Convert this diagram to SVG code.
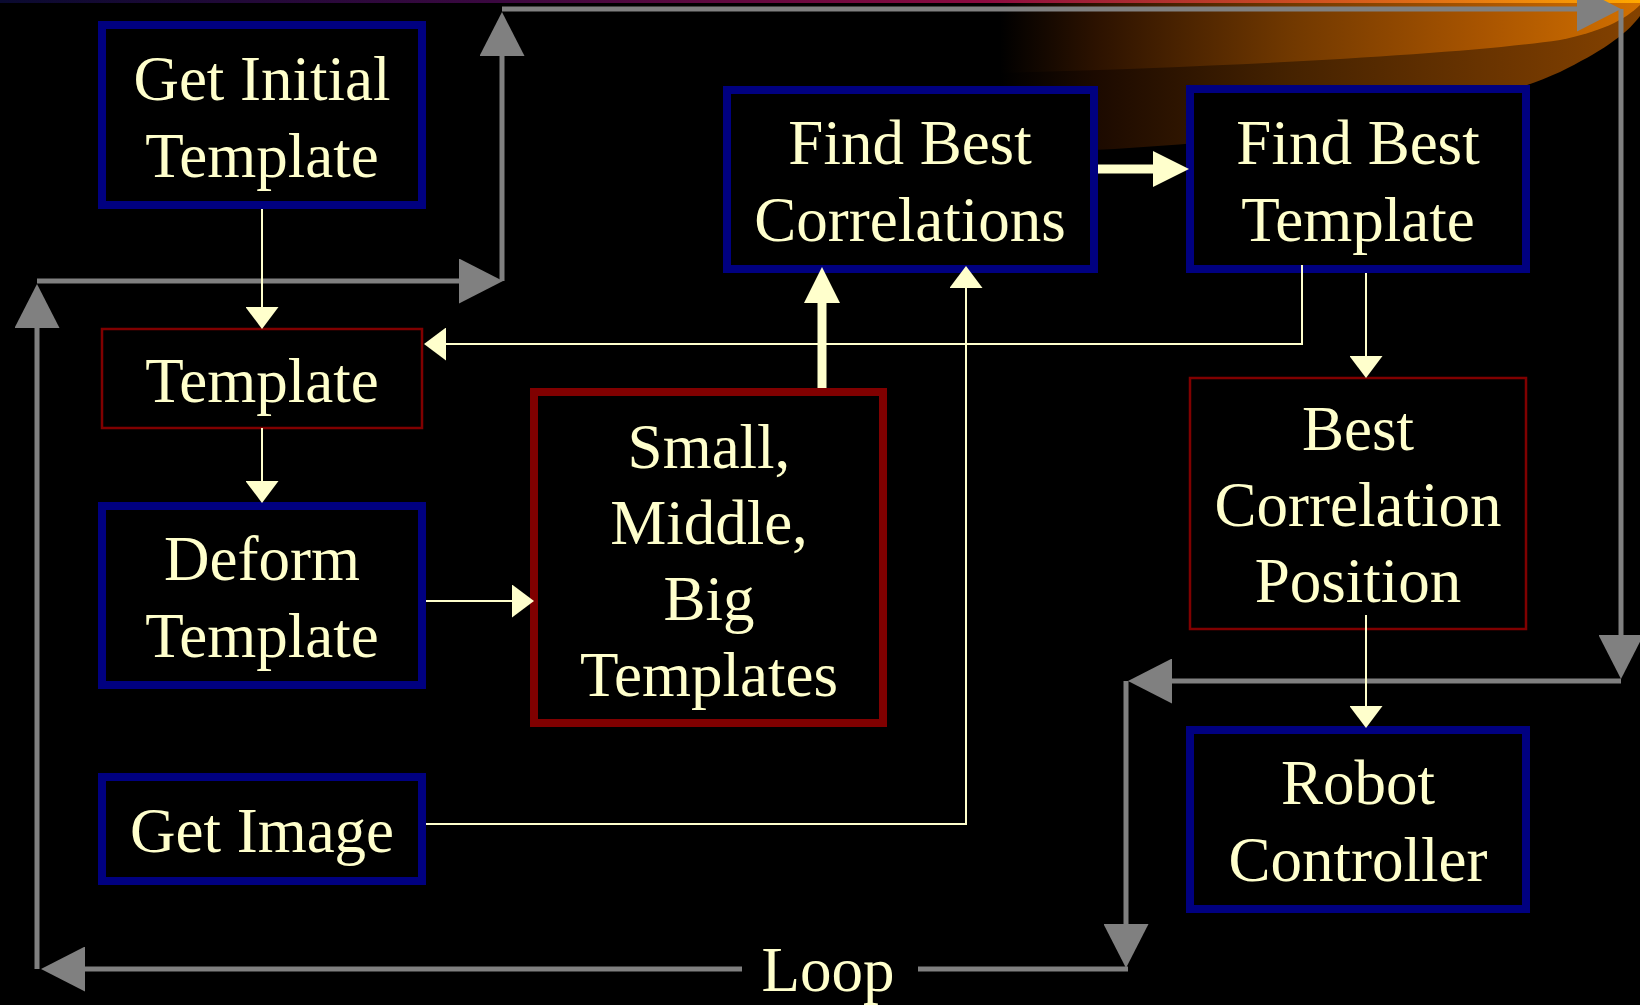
<svg xmlns="http://www.w3.org/2000/svg" width="1640" height="1005" viewBox="0 0 1640 1005">
  <style>
    .t { font-family: "Liberation Serif", "Times New Roman", serif; font-size: 63px; fill: #FFFFCC; text-anchor: middle; }
    .blue { fill: #000000; stroke: #000080; stroke-width: 8; }
    .red { fill: #000000; stroke: #800000; stroke-width: 8; }
    .redthin { fill: #000000; stroke: #800000; stroke-width: 2.5; }
    .thin { fill: none; stroke: #FFFFCC; stroke-width: 2; marker-end: url(#ah); }
    .thick { fill: none; stroke: #FFFFCC; stroke-width: 9; marker-end: url(#ahThick); }
    .loop { fill: none; stroke: #808080; stroke-width: 5; marker-end: url(#ahGray); }
    .loop-plain { fill: none; stroke: #808080; stroke-width: 5; }
  </style>
  <defs>
    <marker id="ah" markerUnits="userSpaceOnUse" viewBox="0 0 22 33" markerWidth="22" markerHeight="33" refX="1" refY="16.5" orient="auto">
      <path d="M0,0 L22,16.5 L0,33 Z" fill="#FFFFCC"/>
    </marker>
    <marker id="ahThick" markerUnits="userSpaceOnUse" viewBox="0 0 36 36" markerWidth="36" markerHeight="36" refX="1" refY="18" orient="auto">
      <path d="M0,0 L36,18 L0,36 Z" fill="#FFFFCC"/>
    </marker>
    <marker id="ahGray" markerUnits="userSpaceOnUse" viewBox="0 0 44 45" markerWidth="44" markerHeight="45" refX="1" refY="22.5" orient="auto">
      <path d="M0,0 L44,22.5 L0,45 Z" fill="#808080"/>
    </marker>
    <linearGradient id="swooshDark" gradientUnits="userSpaceOnUse" x1="1000" y1="0" x2="1640" y2="0">
      <stop offset="0" stop-color="#000000"/>
      <stop offset="0.15" stop-color="#1C0A00"/>
      <stop offset="0.45" stop-color="#452200"/>
      <stop offset="0.8" stop-color="#6E3600"/>
      <stop offset="1" stop-color="#844200"/>
    </linearGradient>
    <linearGradient id="swooshLight" gradientUnits="userSpaceOnUse" x1="1000" y1="0" x2="1640" y2="0">
      <stop offset="0" stop-color="#000000"/>
      <stop offset="0.15" stop-color="#2C1200"/>
      <stop offset="0.45" stop-color="#703800"/>
      <stop offset="0.75" stop-color="#A85400"/>
      <stop offset="1" stop-color="#D27000"/>
    </linearGradient>
    <linearGradient id="topStrip" x1="0" y1="0" x2="1" y2="0">
      <stop offset="0" stop-color="#0A0A30"/>
      <stop offset="0.3" stop-color="#3A0840"/>
      <stop offset="0.6" stop-color="#8C0A40"/>
      <stop offset="0.8" stop-color="#D05020"/>
      <stop offset="1" stop-color="#FFA800"/>
    </linearGradient>
  </defs>

  <!-- background -->
  <rect x="0" y="0" width="1640" height="1005" fill="#000000"/>

  <!-- decorative swoosh, top right -->
  <path d="M960,0 L960,154 C1200,152 1450,122 1560,72 C1600,52 1625,36 1640,16 L1640,0 Z" fill="url(#swooshDark)"/>
  <path d="M960,0 L960,74 C1200,68 1450,56 1560,40 C1600,32 1625,20 1640,5 L1640,0 Z" fill="url(#swooshLight)"/>
  <rect x="0" y="0" width="1640" height="3" fill="url(#topStrip)"/>

  <!-- loop connectors (grey) -->
  <g id="loop-connectors">
    <path class="loop" d="M742,969 H84"/>
    <path class="loop-plain" d="M1128,969 H918"/>
    <path class="loop" d="M37,969 V327"/>
    <path class="loop" d="M37,281 H460"/>
    <path class="loop" d="M502,281 V55"/>
    <path class="loop" d="M502,9 H1578"/>
    <path class="loop" d="M1621,9 V636"/>
    <path class="loop" d="M1621,681 H1171"/>
    <path class="loop" d="M1126,681 V925"/>
  </g>

  <!-- nodes -->
  <g id="get-initial-template">
    <rect class="blue" x="102" y="25" width="320" height="180"/>
    <text class="t" x="262" y="100">Get Initial</text>
    <text class="t" x="262" y="177">Template</text>
  </g>
  <g id="template">
    <rect class="redthin" x="102" y="329" width="320" height="99"/>
    <text class="t" x="262" y="402">Template</text>
  </g>
  <g id="deform-template">
    <rect class="blue" x="102" y="506" width="320" height="179"/>
    <text class="t" x="262" y="580">Deform</text>
    <text class="t" x="262" y="657">Template</text>
  </g>
  <g id="get-image">
    <rect class="blue" x="102" y="777" width="320" height="104"/>
    <text class="t" x="262" y="852">Get Image</text>
  </g>
  <g id="templates-set">
    <rect class="red" x="534" y="392" width="349" height="331"/>
    <text class="t" x="709" y="468">Small,</text>
    <text class="t" x="709" y="544">Middle,</text>
    <text class="t" x="709" y="620">Big</text>
    <text class="t" x="709" y="696">Templates</text>
  </g>
  <g id="find-best-correlations">
    <rect class="blue" x="727" y="90" width="367" height="179"/>
    <text class="t" x="910" y="164">Find Best</text>
    <text class="t" x="910" y="241">Correlations</text>
  </g>
  <g id="find-best-template">
    <rect class="blue" x="1190" y="89" width="336" height="180"/>
    <text class="t" x="1358" y="164">Find Best</text>
    <text class="t" x="1358" y="241">Template</text>
  </g>
  <g id="best-correlation-position">
    <rect class="redthin" x="1190" y="378" width="336" height="251"/>
    <text class="t" x="1358" y="450">Best</text>
    <text class="t" x="1358" y="526">Correlation</text>
    <text class="t" x="1358" y="602">Position</text>
  </g>
  <g id="robot-controller">
    <rect class="blue" x="1190" y="730" width="336" height="179"/>
    <text class="t" x="1358" y="804">Robot</text>
    <text class="t" x="1358" y="881">Controller</text>
  </g>

  <!-- data-flow connectors -->
  <g id="connectors">
    <path class="thin" d="M262,209 V308"/>
    <path class="thin" d="M262,428 V482"/>
    <path class="thin" d="M426,601 H513"/>
    <path class="thin" d="M426,824 H966 V287"/>
    <path class="thin" d="M1302,265 V344 H445"/>
    <path class="thin" d="M1366,273 V357"/>
    <path class="thin" d="M1366,615 V707"/>
    <path class="thick" d="M822,388 V302"/>
    <path class="thick" d="M1098,169 H1154"/>
  </g>

  <text class="t" x="828" y="991">Loop</text>
</svg>
